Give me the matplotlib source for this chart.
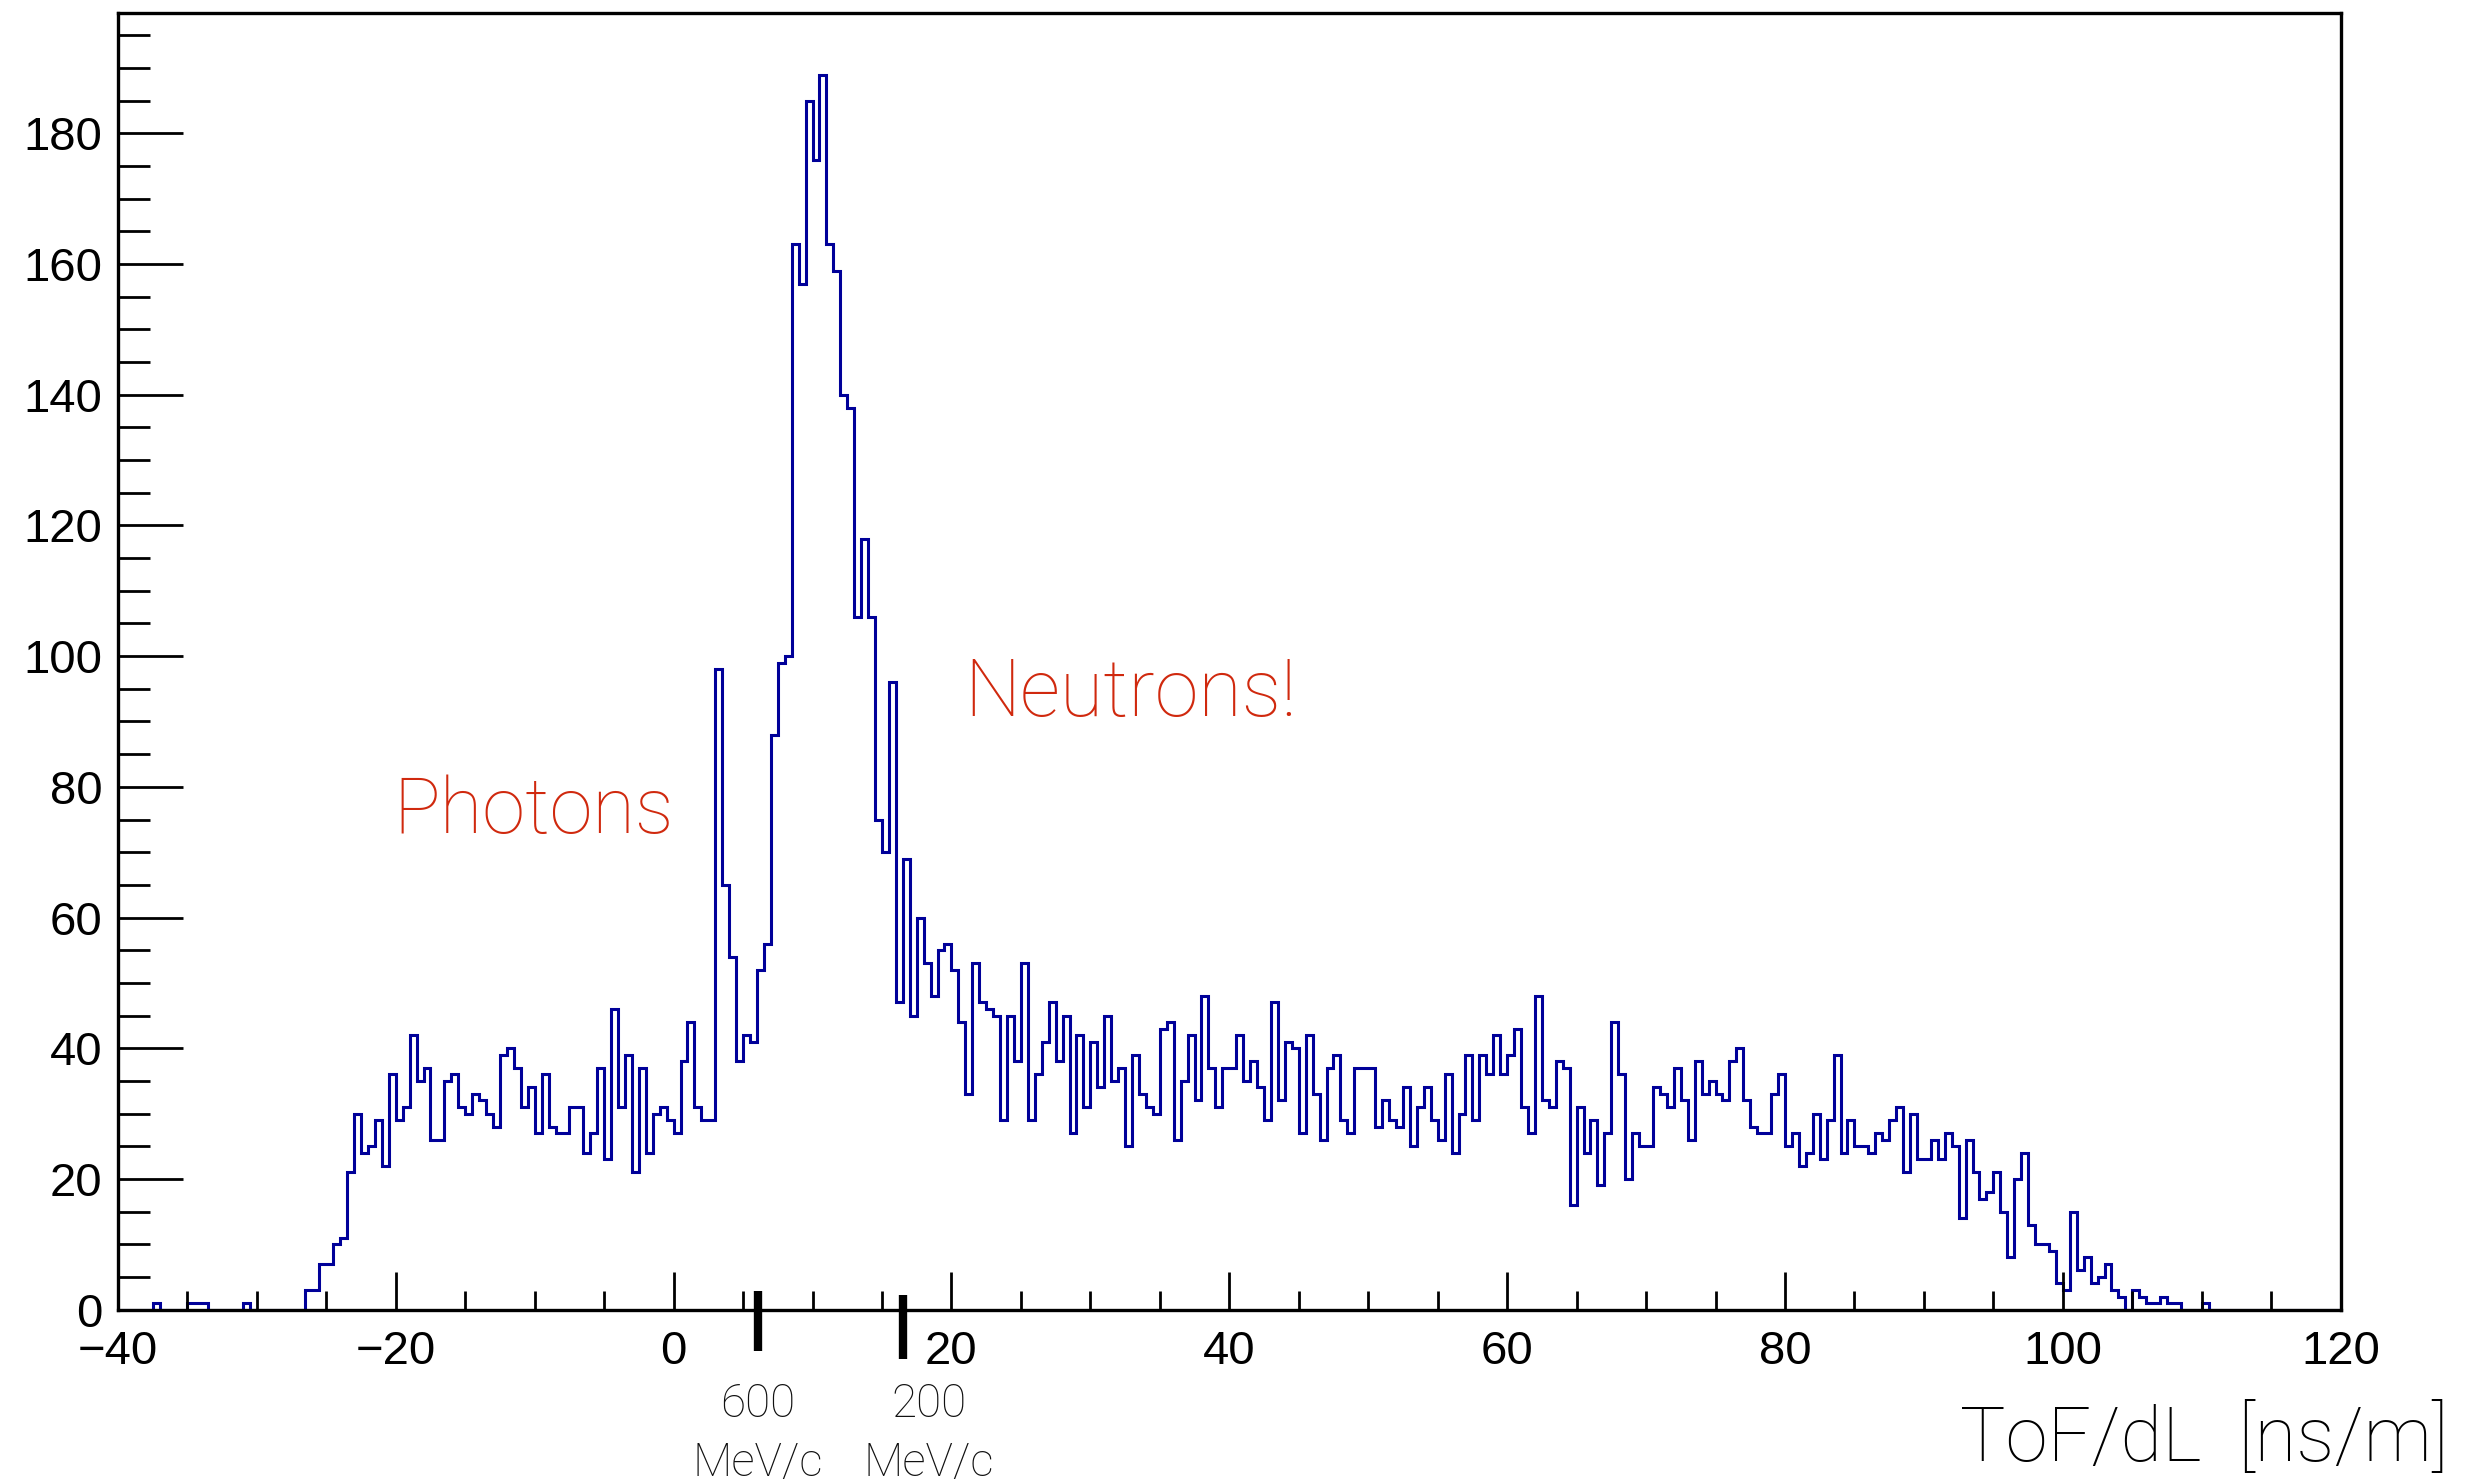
import numpy as np
import matplotlib.pyplot as plt
from matplotlib.ticker import MultipleLocator

# histogram: ToF/dL, 320 bins of 0.5 ns/m from -40 to 120
x_low = -40.0
x_high = 120.0
n_bins = 320

# counts per bin, one row = 10 ns/m (20 bins)
counts_left = [
    0, 0, 0, 0, 0, 1, 0, 0, 0, 0, 1, 1, 1, 0, 0, 0, 0, 0, 1, 0,            # -40 .. -30
    0, 0, 0, 0, 0, 0, 0, 3, 3, 7, 7, 10, 11, 21, 30, 24, 25, 29, 22, 36,    # -30 .. -20
    29, 31, 42, 35, 37, 26, 26, 35, 36, 31, 30, 33, 32, 30, 28, 39, 40, 37, 31, 34,  # -20 .. -10
    27, 36, 28, 27, 27, 31, 31, 24, 27, 37, 23, 46, 31, 39, 21, 37, 24, 30, 31, 29,  # -10 .. 0
]
counts_peak = [
    27, 38, 44, 31, 29, 29, 98, 65, 54, 38, 42, 41, 52, 56, 88, 99, 100, 163, 157, 185,  # 0 .. 10
    176, 189, 163, 159, 140, 138, 106, 118, 106, 75, 70, 96, 47, 69, 45, 60, 53, 48, 55, 56,  # 10 .. 20
]
counts_tail = [
    52, 44, 33, 53, 47, 46, 45, 29, 45, 38, 53, 29, 36, 41, 47, 38, 45, 27, 42, 31,  # 20 .. 30
    41, 34, 45, 35, 37, 25, 39, 33, 31, 30, 43, 44, 26, 35, 42, 32, 48, 37, 31, 37,  # 30 .. 40
    37, 42, 35, 38, 34, 29, 47, 32, 41, 40, 27, 42, 33, 26, 37, 39, 29, 27, 37, 37,  # 40 .. 50
    37, 28, 32, 29, 28, 34, 25, 31, 34, 29, 26, 36, 24, 30, 39, 29, 39, 36, 42, 36,  # 50 .. 60
    39, 43, 31, 27, 48, 32, 31, 38, 37, 16, 31, 24, 29, 19, 27, 44, 36, 20, 27, 25,  # 60 .. 70
    25, 34, 33, 31, 37, 32, 26, 38, 33, 35, 33, 32, 38, 40, 32, 28, 27, 27, 33, 36,  # 70 .. 80
    25, 27, 22, 24, 30, 23, 29, 39, 24, 29, 25, 25, 24, 27, 26, 29, 31, 21, 30, 23,  # 80 .. 90
    23, 26, 23, 27, 25, 14, 26, 21, 17, 18, 21, 15, 8, 20, 24, 13, 10, 10, 9, 4,     # 90 .. 100
    3, 15, 6, 8, 4, 5, 7, 3, 2, 0, 3, 2, 1, 1, 2, 1, 1, 0, 0, 0,                    # 100 .. 110
    1, 0, 0, 0, 0, 0, 0, 0, 0, 0, 0, 0, 0, 0, 0, 0, 0, 0, 0, 0,                     # 110 .. 120
]

counts = np.array(counts_left + counts_peak + counts_tail)
edges = np.linspace(x_low, x_high, n_bins + 1)

# momentum markers on the time axis
marker_pos = [6.05, 16.5]
marker_top = [2.9, 2.2]
marker_bottom = [-6.4, -7.6]
marker_value = ['600', '200']
marker_text_x = [6.05, 18.4]

light = 'Roboto'
ticks_font = 'Liberation Sans'

fig = plt.figure(figsize=(24.83, 14.84), dpi=100)
ax = fig.add_axes([0.04748, 0.11752, 0.8952, 0.87385])

ax.stairs(counts, edges, color='#000099', linewidth=2.2, baseline=0)

ax.set_xlim(x_low, x_high)
ax.set_ylim(0, 1.05 * counts.max())

# ROOT-like frame and ticks
for side in ['left', 'right', 'top', 'bottom']:
    ax.spines[side].set_linewidth(2.4)
ax.xaxis.set_major_locator(MultipleLocator(20))
ax.xaxis.set_minor_locator(MultipleLocator(5))
ax.yaxis.set_major_locator(MultipleLocator(20))
ax.yaxis.set_minor_locator(MultipleLocator(5))
ax.tick_params(axis='x', which='major', direction='in', length=27.5, width=2.0, pad=15)
ax.tick_params(axis='x', which='minor', direction='in', length=13.7, width=2.0)
ax.tick_params(axis='y', which='major', direction='in', length=47, width=2.0, pad=11)
ax.tick_params(axis='y', which='minor', direction='in', length=23, width=2.0)
for lab in ax.get_xticklabels() + ax.get_yticklabels():
    lab.set_fontfamily(ticks_font)
    lab.set_fontsize(34)

# thick markers and momentum labels below the axis
for i in range(len(marker_pos)):
    ax.plot([marker_pos[i], marker_pos[i]], [marker_top[i], marker_bottom[i]],
            color='black', linewidth=6, solid_capstyle='butt', clip_on=False)
    ax.text(marker_text_x[i], -16.4, marker_value[i], ha='center', va='baseline',
            fontsize=33, color='#111111', family=light, fontweight='light')
    ax.text(marker_text_x[i], -25.4, 'MeV/c', ha='center', va='baseline',
            fontsize=33, color='#111111', family=light, fontweight='light')

# annotations
ax.text(-20.2, 73.0, 'Photons', ha='left', va='baseline', fontsize=56,
        color='#d0290e', family=light, fontweight='light')
ax.text(20.9, 90.9, 'Neutrons!', ha='left', va='baseline', fontsize=57,
        color='#d0290e', family=light, fontweight='light')

fig.text(0.986, 0.0155, 'ToF/dL  [ns/m]', ha='right', va='baseline', fontsize=55,
         family=light, fontweight='light')

fig.savefig('out.png', dpi=100)
